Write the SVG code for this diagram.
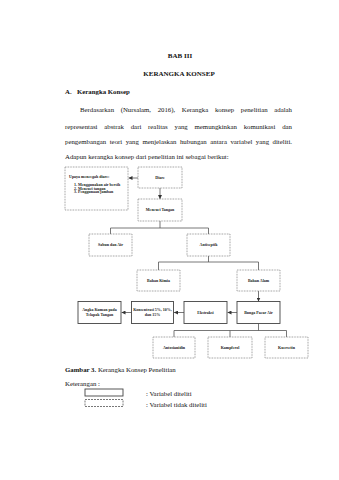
<svg xmlns="http://www.w3.org/2000/svg" width="339" height="480" viewBox="0 0 339 480">
<defs>
<style>
.pg{font-family:"Liberation Serif","Times New Roman",serif;font-size:6.8px;fill:#111}
.hd{font-size:7px}
.b{font-weight:bold}
.lb{font-family:"Liberation Serif","Times New Roman",serif;font-size:4px;font-weight:bold;fill:#222;text-anchor:middle}
.lbl{font-family:"Liberation Serif","Times New Roman",serif;font-size:4px;font-weight:bold;fill:#222}
.dot{fill:#fff;stroke:#777;stroke-width:0.8;stroke-dasharray:0.8 0.8}
.sol{fill:#fff;stroke:#444;stroke-width:0.9}
.cn{fill:none;stroke:#555;stroke-width:0.8}
</style>
<marker id="ah" markerUnits="userSpaceOnUse" markerWidth="4" markerHeight="4" refX="4" refY="2" orient="auto">
<path d="M0,0 L4,2 L0,4 z" fill="#333"/>
</marker>
</defs>
<rect width="339" height="480" fill="#fff"/>

<g id="page-text">
<text class="pg hd b" x="180" y="57.5" text-anchor="middle">BAB III</text>
<text class="pg hd b" x="179" y="76" text-anchor="middle">KERANGKA KONSEP</text>
<text class="pg b" x="65" y="93.5">A.</text>
<text class="pg b" x="77" y="93.5">Kerangka Konsep</text>
<text class="pg" x="80" y="112" word-spacing="4.9" textLength="212" lengthAdjust="spacing">Berdasarkan (Nursalam, 2016), Kerangka konsep penelitian adalah</text>
<text class="pg" x="65" y="128.5" word-spacing="5.1" textLength="227" lengthAdjust="spacing">representasi abstrak dari realitas yang memungkinkan komunikasi dan</text>
<text class="pg" x="65" y="143.5" word-spacing="1.8" textLength="227" lengthAdjust="spacing">pengembangan teori yang menjelaskan hubungan antara variabel yang diteliti.</text>
<text class="pg" x="65" y="158.5">Adapun kerangka konsep dari penelitian ini sebagai berikut:</text>
</g>

<g id="connectors">
<line class="cn" x1="138" y1="178" x2="128.5" y2="178" marker-end="url(#ah)"/>
<line class="cn" x1="160" y1="188" x2="160" y2="199" marker-end="url(#ah)"/>
<path class="cn" d="M160,221 V228 M110.5,234 V228 H208.5 V234"/>
<path class="cn" d="M208.5,256 V262 M158.5,270 V262 H258.5 V270"/>
<line class="cn" x1="258.5" y1="291" x2="258.5" y2="301.5" marker-end="url(#ah)"/>
<line class="cn" x1="237" y1="312.5" x2="227.5" y2="312.5" marker-end="url(#ah)"/>
<line class="cn" x1="184" y1="312.5" x2="174" y2="312.5" marker-end="url(#ah)"/>
<line class="cn" x1="131.5" y1="312.5" x2="121.5" y2="312.5" marker-end="url(#ah)"/>
<path class="cn" d="M258.5,323.5 V330.5 M174,337 V330.5 H286.5 V337 M230,330.5 V337"/>
</g>

<g id="node-upaya">
<rect class="dot" x="65" y="167" width="63" height="43"/>
<text class="lbl" x="69" y="178.3">Upaya mencegah diare:</text>
<text class="lbl" x="74" y="186.3">1. Menggunakan air bersih</text>
<text class="lbl" x="74" y="189.8">2. Mencuci tangan</text>
<text class="lbl" x="74" y="193.3">3. Penggunaan jamban</text>
</g>
<g id="node-diare">
<rect class="dot" x="138" y="167" width="44" height="21"/>
<text class="lb" x="160" y="178.9">Diare</text>
</g>
<g id="node-mencuci">
<rect class="dot" x="138" y="199" width="44" height="22"/>
<text class="lb" x="160" y="211.4">Mencuci Tangan</text>
</g>
<g id="node-sabun">
<rect class="dot" x="89" y="234" width="43" height="22"/>
<text class="lb" x="110.5" y="246.4">Sabun dan Air</text>
</g>
<g id="node-antiseptik">
<rect class="dot" x="187" y="234" width="43" height="22"/>
<text class="lb" x="208.5" y="246.4">Antiseptik</text>
</g>
<g id="node-kimia">
<rect class="dot" x="137" y="270" width="43" height="21"/>
<text class="lb" x="158.5" y="281.9">Bahan Kimia</text>
</g>
<g id="node-alam">
<rect class="dot" x="237" y="270" width="43" height="21"/>
<text class="lb" x="258.5" y="281.9">Bahan Alam</text>
</g>
<g id="node-bunga">
<rect class="sol" x="237" y="301.5" width="43" height="22"/>
<text class="lb" x="258.5" y="313.9">Bunga Pacar Air</text>
</g>
<g id="node-ekstraksi">
<rect class="sol" x="184" y="301.5" width="43" height="22"/>
<text class="lb" x="205.5" y="313.9">Ekstraksi</text>
</g>
<g id="node-konsentrasi">
<rect class="sol" x="131.5" y="301.5" width="42" height="22"/>
<text class="lb" x="152.5" y="311.2">Konsentrasi 5%, 10%,</text>
<text class="lb" x="152.5" y="316.2">dan 15%</text>
</g>
<g id="node-angka">
<rect class="sol" x="78" y="301.5" width="43" height="22"/>
<text class="lb" x="99.5" y="311.2">Angka Kuman pada</text>
<text class="lb" x="99.5" y="316.2">Telapak Tangan</text>
</g>
<g id="node-antosianidin">
<rect class="dot" x="153" y="337" width="42" height="21"/>
<text class="lb" x="174" y="348.9">Antosianidin</text>
</g>
<g id="node-kampferol">
<rect class="dot" x="208" y="337" width="44" height="21"/>
<text class="lb" x="230" y="348.9">Kampferol</text>
</g>
<g id="node-kuersetin">
<rect class="dot" x="265" y="337" width="43" height="21"/>
<text class="lb" x="286.5" y="348.9">Kuersetin</text>
</g>

<g id="legend">
<text class="pg" x="65" y="372"><tspan class="b">Gambar 3.</tspan> Kerangka Konsep Penelitian</text>
<text class="pg" x="65" y="386">Keterangan :</text>
<rect class="sol" x="85" y="389" width="38" height="7"/>
<rect x="85" y="399.5" width="38" height="7" fill="none" stroke="#555" stroke-width="0.8" stroke-dasharray="2 1"/>
<text class="pg" x="146" y="396">: Variabel diteliti</text>
<text class="pg" x="146" y="407">: Variabel tidak diteliti</text>
</g>
</svg>
